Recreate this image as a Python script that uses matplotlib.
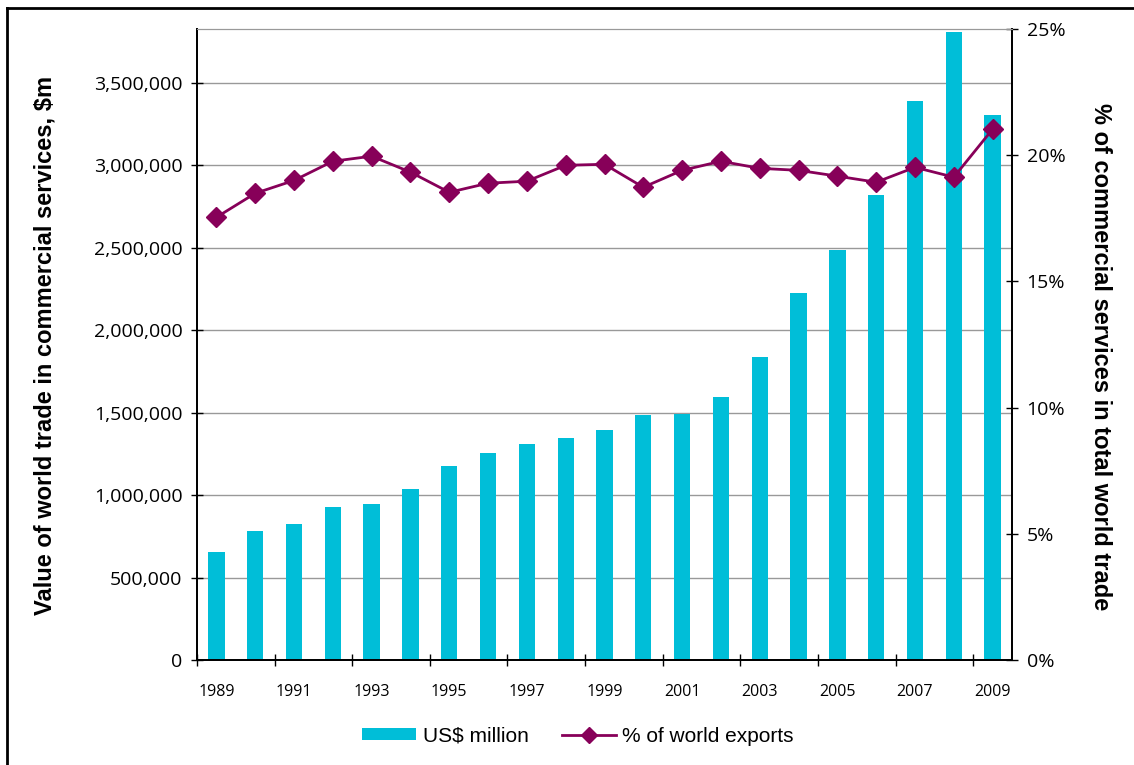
import matplotlib
matplotlib.use('Agg')
import matplotlib.pyplot as plt
import numpy as np
from matplotlib.lines import Line2D
from matplotlib.patches import Patch

years = list(range(1989, 2010))
trade_usd_m = [655000, 783000, 825000, 928000, 947000, 1038000, 1177000,
               1256000, 1311000, 1347000, 1396000, 1487000, 1493000, 1596000,
               1839000, 2227000, 2488000, 2822000, 3392000, 3811000, 3307000]
share_pct = [17.54, 18.49, 19.0, 19.76, 19.96, 19.33, 18.53, 18.89, 18.97,
             19.6, 19.64, 18.73, 19.4, 19.76, 19.48, 19.4, 19.17, 18.93,
             19.52, 19.13, 21.03]

bar_color = '#00BED8'
line_color = '#870059'
tick_font = 'Open Sans'
label_font = 'Liberation Sans'

fig = plt.figure(figsize=(11.34, 7.65), dpi=100)
ax = fig.add_axes([197/1134, 105/765, 815/1134, 631/765])
ax2 = ax.twinx()

x = np.arange(len(years))
ax.bar(x, trade_usd_m, width=0.42, color=bar_color, zorder=2)
ax2.plot(x, share_pct, color=line_color, lw=2, marker='D', markersize=10,
         markerfacecolor=line_color, markeredgecolor=line_color, zorder=3)

ax.set_xlim(-0.5, len(years) - 0.5)
ax.set_ylim(0, 3827600)
ax2.set_ylim(0, 25)

# y gridlines and ticks
yt = np.arange(0, 3500001, 500000)
ax.set_yticks(yt)
ax.set_yticklabels(['{:,}'.format(v) for v in yt], fontfamily=tick_font, fontsize=14)
ax.yaxis.grid(True, color='#999999', lw=1, zorder=0)
ax.tick_params(axis='y', direction='inout', length=9, width=1, pad=6)

pt = np.arange(0, 26, 5)
ax2.set_yticks(pt)
ax2.set_yticklabels(['{}%'.format(v) for v in pt], fontfamily=tick_font, fontsize=14)
ax2.tick_params(axis='y', direction='inout', length=9, width=1, pad=6)

# x ticks at category boundaries, labels every second year
ax.set_xticks(np.arange(-0.5, len(years) - 1, 2))
ax.set_xticklabels([])
ax.set_xticks(x[::2], minor=True)
ax.set_xticklabels([str(y) for y in years[::2]], minor=True,
                   fontfamily=tick_font, fontsize=11.5)
ax.tick_params(axis='x', which='major', direction='inout', length=9, width=1)
ax.tick_params(axis='x', which='minor', length=0, pad=17)

for a in (ax, ax2):
    a.spines['top'].set_color('#999999')
    a.spines['left'].set_color('black')
    a.spines['right'].set_color('black')
    a.spines['bottom'].set_color('black')
    a.spines['left'].set_linewidth(1.3)
    a.spines['right'].set_linewidth(1.3)
    a.spines['bottom'].set_linewidth(1.3)

fig.text(45/1134, 1 - 345/765, 'Value of world trade in commercial services, $m',
         rotation=90, ha='center', va='center', fontfamily=label_font,
         fontweight='bold', fontsize=17)
fig.text(1100/1134, 1 - 357/765, '% of commercial services in total world trade',
         rotation=-90, ha='center', va='center', fontfamily=label_font,
         fontweight='bold', fontsize=17)

handles = [Patch(facecolor=bar_color, edgecolor='none'),
           Line2D([0], [0], color=line_color, lw=2, marker='D', markersize=8,
                  markerfacecolor=line_color)]
fig.legend(handles, ['US$ million', '% of world exports'], loc='center',
           bbox_to_anchor=(578/1134, 1 - 736/765), ncol=2, frameon=False,
           prop={'family': label_font, 'size': 15}, handlelength=2.6,
           handleheight=0.5, columnspacing=1.6, handletextpad=0.3)

# outer frame of the chart area
fig.add_artist(Line2D([7/1134, 7/1134], [0, 1 - 8/765], color='black', lw=2,
                      transform=fig.transFigure))
fig.add_artist(Line2D([7/1134, 1], [1 - 8/765, 1 - 8/765], color='black', lw=2,
                      transform=fig.transFigure))

plt.savefig('out.png', dpi=100)
plt.close()
